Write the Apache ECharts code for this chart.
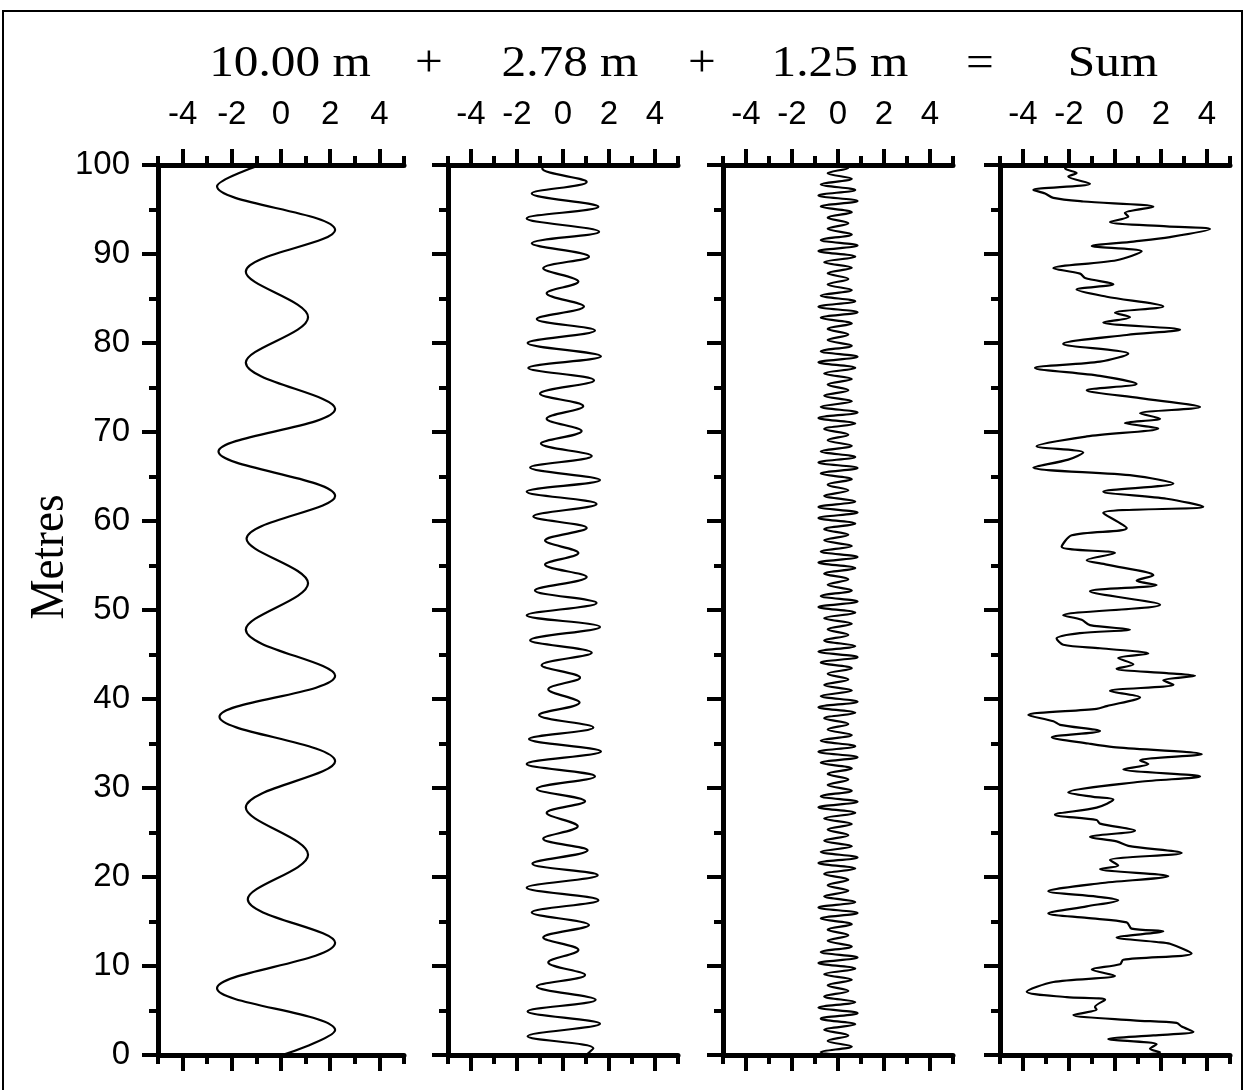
<!DOCTYPE html>
<html>
<head>
<meta charset="utf-8">
<script src="https://cdn.jsdelivr.net/npm/echarts@6/dist/echarts.min.js"></script>
<style>
html,body{margin:0;padding:0;background:#fff;}
#c{width:1245px;height:1090px;}
</style>
</head>
<body>
<div id="c"></div>
<script>
// ---- data: depth in metres, value on -5..5 axes ----
var titles = ['10.00 m', '+', '2.78 m', '+', '1.25 m', '=', 'Sum'];
var yLabel = 'Metres';
var xMajorTicks = [-4, -2, 0, 2, 4];
var xMinorTicks = [-5, -3, -1, 1, 3, 5];

var depth1 = [0, 2.8, 7.5, 12.6, 17.5, 22.5, 27.8, 33, 38, 42.6, 47.8, 53, 58, 62.8, 67.8, 72.6, 77.8, 82.9, 88, 92.7, 97.6, 100];
var value1 = [0.05, 2.2, -2.6, 2.2, -1.35, 1.1, -1.43, 2.2, -2.5, 2.2, -1.43, 1.1, -1.4, 2.2, -2.54, 2.2, -1.43, 1.1, -1.43, 2.2, -2.6, -0.85];

var depth2 = [100, 99.6, 98.1, 96.8, 95.3, 94.0, 92.5, 91.2, 89.7, 88.4, 86.9, 85.6, 84.1, 82.7, 81.4, 80.0, 78.5, 77.2, 75.8, 74.3, 72.9, 71.5, 70.1, 68.7, 67.3, 66.0, 64.6, 63.3, 61.9, 60.5, 59.2, 57.8, 56.4, 55.1, 53.7, 52.2, 50.8, 49.4, 48.1, 46.6, 45.2, 43.8, 42.4, 41.1, 39.6, 38.2, 36.8, 35.5, 34.1, 32.7, 31.3, 29.9, 28.5, 27.2, 25.7, 24.3, 23.0, 21.5, 20.2, 18.8, 17.4, 16.0, 14.6, 13.2, 11.8, 10.4, 9.0, 7.7, 6.2, 4.9, 3.5, 2.1, 0.75, 0];
var value2 = [-0.85, -0.9, 1.03, -1.36, 1.54, -1.58, 1.57, -1.36, 1.13, -0.86, 0.67, -0.71, 0.91, -1.14, 1.39, -1.54, 1.65, -1.51, 1.35, -1.0, 0.88, -0.71, 0.81, -0.96, 1.25, -1.43, 1.61, -1.58, 1.46, -1.29, 1.03, -0.78, 0.67, -0.78, 1.03, -1.22, 1.46, -1.58, 1.61, -1.43, 1.25, -0.93, 0.74, -0.64, 0.72, -1.04, 1.32, -1.48, 1.65, -1.58, 1.39, -1.14, 0.96, -0.71, 0.64, -0.86, 1.07, -1.33, 1.51, -1.58, 1.54, -1.36, 1.13, -0.86, 0.67, -0.64, 0.96, -1.14, 1.42, -1.54, 1.61, -1.54, 1.32, 1.0];

var depth3 = [100,
 99.70, 99.08, 98.45, 97.83, 97.20, 96.58, 95.95, 95.33, 94.70, 94.08,
 93.45, 92.83, 92.20, 91.58, 90.95, 90.33, 89.70, 89.08, 88.45, 87.83,
 87.20, 86.58, 85.95, 85.33, 84.70, 84.08, 83.45, 82.83, 82.20, 81.58,
 80.95, 80.33, 79.70, 79.08, 78.45, 77.83, 77.20, 76.58, 75.95, 75.33,
 74.70, 74.08, 73.45, 72.83, 72.20, 71.58, 70.95, 70.33, 69.70, 69.08,
 68.45, 67.83, 67.20, 66.58, 65.95, 65.33, 64.70, 64.08, 63.45, 62.83,
 62.20, 61.58, 60.95, 60.33, 59.70, 59.08, 58.45, 57.83, 57.20, 56.58,
 55.95, 55.33, 54.70, 54.08, 53.45, 52.83, 52.20, 51.58, 50.95, 50.33,
 49.70, 49.08, 48.45, 47.83, 47.20, 46.58, 45.95, 45.33, 44.70, 44.08,
 43.45, 42.83, 42.20, 41.58, 40.95, 40.33, 39.70, 39.08, 38.45, 37.83,
 37.20, 36.58, 35.95, 35.33, 34.70, 34.08, 33.45, 32.83, 32.20, 31.58,
 30.95, 30.33, 29.70, 29.08, 28.45, 27.83, 27.20, 26.58, 25.95, 25.33,
 24.70, 24.08, 23.45, 22.83, 22.20, 21.58, 20.95, 20.33, 19.70, 19.08,
 18.45, 17.83, 17.20, 16.58, 15.95, 15.33, 14.70, 14.08, 13.45, 12.83,
 12.20, 11.58, 10.95, 10.33, 9.70, 9.08, 8.45, 7.83, 7.20, 6.58,
 5.95, 5.33, 4.70, 4.08, 3.45, 2.83, 2.20, 1.58, 0.95, 0.33, 0];
var value3 = [0,
 0.45, -0.45, 0.6, -0.75, 0.75, -0.85, 0.85, -0.75, 0.6, -0.45,
 0.45, -0.45, 0.6, -0.75, 0.85, -0.85, 0.75, -0.6, 0.6, -0.45,
 0.45, -0.45, 0.6, -0.75, 0.75, -0.85, 0.85, -0.75, 0.6, -0.45,
 0.45, -0.45, 0.6, -0.75, 0.85, -0.85, 0.75, -0.6, 0.6, -0.45,
 0.45, -0.6, 0.6, -0.75, 0.85, -0.85, 0.75, -0.6, 0.45, -0.45,
 0.6, -0.75, 0.75, -0.85, 0.85, -0.75, 0.6, -0.45, 0.45, -0.6,
 0.75, -0.85, 0.85, -0.85, 0.75, -0.6, 0.45, -0.6, 0.6, -0.75,
 0.85, -0.85, 0.75, -0.6, 0.45, -0.45, 0.6, -0.75, 0.85, -0.85,
 0.75, -0.6, 0.6, -0.45, 0.45, -0.6, 0.75, -0.85, 0.85, -0.75,
 0.6, -0.45, 0.45, -0.6, 0.6, -0.75, 0.85, -0.85, 0.75, -0.6,
 0.45, -0.45, 0.6, -0.75, 0.75, -0.85, 0.85, -0.75, 0.6, -0.45,
 0.45, -0.45, 0.6, -0.75, 0.85, -0.85, 0.75, -0.6, 0.6, -0.45,
 0.45, -0.6, 0.6, -0.75, 0.85, -0.85, 0.75, -0.6, 0.45, -0.45,
 0.45, -0.6, 0.75, -0.85, 0.85, -0.75, 0.6, -0.45, 0.45, -0.45,
 0.6, -0.75, 0.85, -0.85, 0.75, -0.6, 0.6, -0.45, 0.45, -0.6,
 0.75, -0.85, 0.85, -0.75, 0.75, -0.6, 0.45, -0.45, 0.6, -0.75, 0];

var depth4 = [100, 99.6, 99.1, 98.7, 97.9, 97.2, 96.8, 96.3, 95.9, 95.3, 94.6, 94.2, 93.6, 93.1, 92.8, 91.9, 91.4, 90.9, 90.3, 89.3, 88.4, 87.8, 87.3, 86.6, 86.0, 85.2, 84.1, 83.4, 82.9, 82.3, 81.5, 80.9, 79.9, 78.8, 77.9, 77.2, 76.3, 75.4, 74.7, 73.8, 72.8, 72.1, 71.5, 71.0, 70.4, 69.5, 68.4, 67.7, 66.9, 66.0, 65.1, 64.2, 63.3, 62.5, 61.6, 60.9, 59.2, 58.4, 57.1, 56.4, 55.6, 55.1, 53.9, 53.3, 52.8, 52.1, 50.6,
 49.4, 48.9, 48.3, 47.8, 47.4, 46.8, 46.1, 45.7, 45.1, 44.6, 43.9, 43.4, 42.9, 42.6, 42.1, 41.6, 40.9, 40.2, 39.2, 38.9, 38.2, 37.5, 37.1, 36.4, 35.7, 35.0, 34.6, 33.8, 33.1, 32.7, 32.1, 31.3, 30.7, 29.5, 29.0, 28.7, 27.8, 27.0, 26.4, 26.0, 25.2, 24.5, 24.0, 23.5, 22.7, 21.9, 21.3, 20.9, 20.1, 19.3, 18.4, 17.8, 17.4, 16.7, 15.9, 15.4, 14.9, 14.2, 13.9, 13.2, 12.7, 12.5, 11.4, 10.7, 10.2, 9.6, 8.9, 8.2, 7.1, 6.5, 6.2, 5.4, 5.1, 4.5, 3.9, 3.6, 3.2, 2.6, 2.2, 1.8, 1.2, 0.7, 0.3, 0];
var value4 = [-2.0, -2.17, -1.67, -2.03, -1.09, -3.55, -3.04, -2.68, -1.38, 1.67, 0.43, 0.58, -0.22, 2.25, 4.13, 2.39, 0.8, -1.01, 1.16, 0.07, -2.68, -1.52, -1.30, -0.07, -1.67, -0.36, 2.10, 0, 0.65, -0.51, 2.83, 0.51, -2.25, 0.58, -0.65, -3.48, -0.65, 0.94, -1.23, 1.09, 3.70, 1.09, 1.96, 0.43, 1.88, -1.23, -3.41, -1.38, -2.03, -3.55, 0.80, 2.54, -0.51, 2.25, 3.84, -0.51, 0.51, -1.88, -2.32, 0, -1.23, -0.36, 1.67, 0.94, 1.81, -1.09, 1.96,
 -2.25, -1.45, -1.09, 0.65, -1.52, -2.54, -2.25, -0.65, 1.45, 0.14, 0.80, 0.07, 2.25, 3.48, 2.10, 2.54, -0.22, 1.09, -0.36, -0.80, -3.77, -2.68, -2.39, -0.65, -2.75, -1.16, -0.07, 3.77, 1.09, 1.45, 0.36, 3.70, 1.09, -2.03, -0.94, -0.07, -0.80, -2.61, -0.80, -0.65, 0.87, -1.09, 0.07, 0.58, 2.90, -0.22, 0.14, -0.65, 2.32, -0.65, -2.90, -0.80, 0.14, -1.23, -2.90, -1.23, 0.51, 0.72, 2.10, 0.07, 1.81, 2.39, 3.33, 0.36, 0.22, -1.01, 0, -2.68, -3.84, -2.10, -0.43, -0.87, -0.80, -1.81, 0.80, 2.68, 2.90, 3.41, 1.67, -0.29, 1.81, 1.52, 1.96, 0.8];

// ---- layout ----
var panels = [
  {left: 158, width: 246, d: depth1, v: value1, smooth: 0.36},
  {left: 448, width: 230, d: depth2, v: value2, smooth: 0.36},
  {left: 723, width: 230, d: depth3, v: value3, smooth: 0.36},
  {left: 1000, width: 230, d: depth4, v: value4, smooth: 0.3}
];
var TOP = 165, HEIGHT = 890;
var labelFont = '"Liberation Sans", Arial, sans-serif';
var serifFont = '"Liberation Serif", "Times New Roman", serif';
var BLACK = '#000';

function zip(d, v) { var out = []; for (var i = 0; i < d.length; i++) out.push([v[i], d[i]]); return out; }

var grids = [], xAxes = [], yAxes = [], series = [];
panels.forEach(function (p, i) {
  grids.push({left: p.left, top: TOP, width: p.width, height: HEIGHT, containLabel: false, outerBoundsMode: 'none'});
  var base = {type: 'value', gridIndex: i, min: -5, max: 5, splitLine: {show: false}};
  xAxes.push(Object.assign({}, base, {
    position: 'top',
    axisLine: {show: true, onZero: false, lineStyle: {color: BLACK, width: 5}},
    axisTick: {show: true, customValues: xMajorTicks, length: 16, lineStyle: {color: BLACK, width: 4}},
    axisLabel: {show: true, customValues: xMajorTicks, margin: 34, color: BLACK, fontSize: 33, fontFamily: labelFont}
  }));
  xAxes.push(Object.assign({}, base, {
    position: 'top',
    axisLine: {show: false, onZero: false},
    axisTick: {show: true, customValues: xMinorTicks, length: 9, lineStyle: {color: BLACK, width: 4}},
    axisLabel: {show: false}
  }));
  xAxes.push(Object.assign({}, base, {
    position: 'bottom',
    axisLine: {show: true, onZero: false, lineStyle: {color: BLACK, width: 5}},
    axisTick: {show: true, customValues: xMajorTicks, length: 16, lineStyle: {color: BLACK, width: 4}},
    axisLabel: {show: false}
  }));
  xAxes.push(Object.assign({}, base, {
    position: 'bottom',
    axisLine: {show: false, onZero: false},
    axisTick: {show: true, customValues: xMinorTicks, length: 9, lineStyle: {color: BLACK, width: 4}},
    axisLabel: {show: false}
  }));
  yAxes.push({
    type: 'value', gridIndex: i, min: 0, max: 100, interval: 10, position: 'left',
    splitLine: {show: false},
    axisLine: {show: true, onZero: false, lineStyle: {color: BLACK, width: 5}},
    axisTick: {show: true, length: 16, lineStyle: {color: BLACK, width: 4}},
    minorTick: {show: true, splitNumber: 2, length: 9, lineStyle: {color: BLACK, width: 4}},
    minorSplitLine: {show: false},
    axisLabel: {show: i === 0, margin: 28, color: BLACK, fontSize: 33, fontFamily: labelFont}
  });
  series.push({
    type: 'line', xAxisIndex: i * 4, yAxisIndex: i,
    data: zip(p.d, p.v), smooth: p.smooth, symbol: 'none', showSymbol: false,
    lineStyle: {color: BLACK, width: 2.2}, silent: true, animation: false
  });
});

var titleX = [290, 429, 570, 702, 840, 980, 1113];
var graphics = [
  {type: 'rect', shape: {x: 3, y: 11, width: 1239, height: 1100}, style: {fill: 'none', stroke: BLACK, lineWidth: 2}, silent: true, z: 100},
  {type: 'text', x: 50, y: 557, rotation: Math.PI / 2, scaleY: 1.1,
   style: {text: yLabel, font: '45px ' + serifFont, fill: BLACK, align: 'center', verticalAlign: 'middle'}}
];
titles.forEach(function (t, i) {
  graphics.push({type: 'text', x: titleX[i], y: 64, scaleX: 1.12,
    style: {text: t, font: '44px ' + serifFont, fill: BLACK, align: 'center', verticalAlign: 'middle'}});
});

var chart = echarts.init(document.getElementById('c'), null, {renderer: 'canvas'});
chart.setOption({
  animation: false,
  backgroundColor: '#fff',
  grid: grids,
  xAxis: xAxes,
  yAxis: yAxes,
  series: series,
  graphic: graphics
});
</script>
</body>
</html>
